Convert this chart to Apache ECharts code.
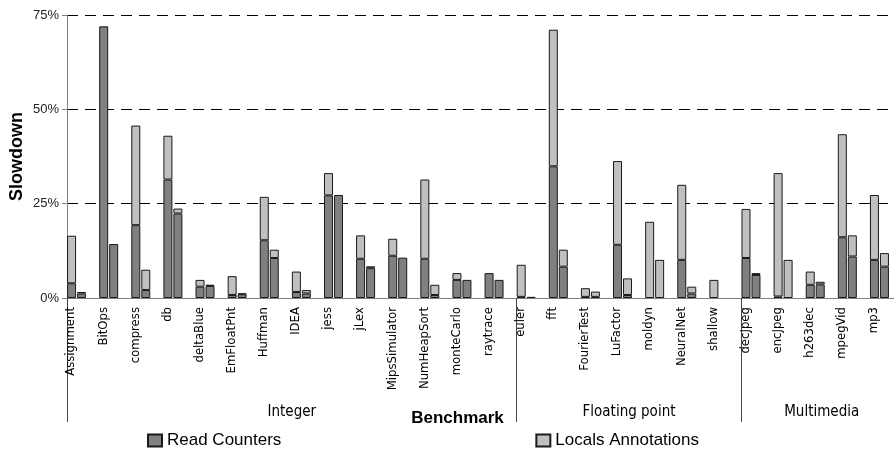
<!DOCTYPE html>
<html>
<head>
<meta charset="utf-8">
<script src="https://cdn.jsdelivr.net/npm/echarts@6/dist/echarts.min.js"></script>
<style>
html,body{margin:0;padding:0;background:#fff;}
#c{width:894px;height:451px;}
</style>
</head>
<body>
<div id="c"></div>
<script>
const benchmarks = ['Assignment','BitOps','compress','db','deltaBlue','EmFloatPnt','Huffman','IDEA','jess','jLex','MipsSimulator','NumHeapSort','monteCarlo','raytrace','euler','fft','FourierTest','LuFactor','moldyn','NeuralNet','shallow','decJpeg','encJpeg','h263dec','mpegVid','mp3'];
const groups = ['Integer','Floating point','Multimedia'];
const groupSizes = [14, 7, 5];
const seriesNames = ['Read Counters','Locals Annotations'];
const yTicks = [0, 25, 50, 75];

// left bar of each pair
const readLeft   = [3.9,72,19.3,31.4,3.0,0.8,15.3,1.6,27.2,10.4,11.2,10.4,4.8,6.6,0.3,34.9,0.3,14.1,0,10.1,0,10.6,0.4,3.5,16.1,10.1];
const localsLeft = [12.6,0,26.4,11.6,1.8,5.0,11.5,5.4,5.9,6.2,4.5,21.0,1.8,0,8.5,36.2,2.3,22.2,20.2,19.9,4.8,13.0,32.7,3.5,27.3,17.2];
// right bar of each pair
const readRight   = [1.2,14.3,2.1,22.4,3.2,1.0,10.6,1.2,27.3,7.9,10.7,0.8,4.8,4.8,0.3,8.3,0.3,0.8,0,1.2,0,6.1,0,3.6,11.0,8.3];
const localsRight = [0.4,0,5.4,1.3,0.3,0.2,2.2,0.9,0,0.5,0,2.7,0,0,0,4.5,1.4,4.4,10.1,1.8,0,0.5,10.1,0.7,5.6,3.6];

const N = benchmarks.length;
const DARK = '#808080', LIGHT = '#c0c0c0', EDGE = '#1a1a1a';
const labelPos = benchmarks.map((_, i) => i + 0.125);
const groupBounds = [0];
groupSizes.forEach(s => groupBounds.push(groupBounds[groupBounds.length - 1] + s));
const groupCenters = groups.map((_, i) => (groupBounds[i] + groupBounds[i + 1]) / 2);
const sepTicks = groupBounds.slice(0, groups.length);

function barSeries(name, data, stack, color) {
  return {
    type: 'bar', name: name, data: data.map(v => v === 0 ? null : v), stack: stack,
    xAxisIndex: 0, barWidth: 9, barGap: '11%',
    itemStyle: { color: color, borderColor: EDGE, borderWidth: 1 },
    emphasis: { disabled: true }, animation: false
  };
}

const chart = echarts.init(document.getElementById('c'), null, { renderer: 'canvas' });
chart.setOption({
  animation: false,
  backgroundColor: '#fff',
  grid: { left: 67, right: -8, top: 15, bottom: 153, containLabel: false, outerBoundsMode: 'none' },
  legend: {
    data: seriesNames, left: 147, top: 432, padding: 0, itemWidth: 14, itemHeight: 12, itemGap: 254,
    textStyle: { fontFamily: 'Liberation Sans, Arial', fontSize: 17, color: '#000' },
    selectedMode: false, icon: 'rect'
  },
  xAxis: [
    {
      type: 'category', data: benchmarks, position: 'bottom',
      axisLine: { show: true, lineStyle: { color: '#808080', width: 1 } },
      axisTick: { show: false }, axisLabel: { show: false }, splitLine: { show: false }
    },
    {
      type: 'value', min: 0, max: N, position: 'bottom',
      axisLine: { show: false }, splitLine: { show: false }, axisTick: { show: false },
      axisLabel: {
        customValues: labelPos, rotate: 90, margin: 9,
        formatter: v => benchmarks[Math.round(v - 0.125)],
        fontFamily: 'Liberation Sans Narrow, DejaVu Sans Condensed', fontSize: 13, color: '#000'
      }
    },
    {
      type: 'value', min: 0, max: N, position: 'bottom',
      axisLine: { show: false }, splitLine: { show: false },
      axisTick: { show: true, customValues: sepTicks, length: 124, lineStyle: { color: '#444', width: 1 } },
      axisLabel: {
        customValues: groupCenters, margin: 107,
        formatter: v => groups[groupCenters.indexOf(v)],
        fontFamily: 'Liberation Sans Narrow, DejaVu Sans Condensed', fontSize: 15, color: '#000'
      },
      name: 'Benchmark', nameLocation: 'middle', nameGap: 120, nameMoveOverlap: false,
      nameTextStyle: { fontFamily: 'Liberation Sans, Arial', fontWeight: 'bold', fontSize: 17, color: '#000', padding: [0, 54, 0, 0], verticalAlign: 'middle' }
    }
  ],
  yAxis: {
    type: 'value', min: yTicks[0], max: yTicks[yTicks.length - 1], interval: 25,
    axisLine: { show: true, lineStyle: { color: '#808080', width: 1 } },
    axisTick: { show: true, inside: false, length: 5, lineStyle: { color: '#808080' } },
    axisLabel: { formatter: '{value}%', margin: 8, fontFamily: 'Liberation Sans, Arial', fontSize: 13, color: '#222' },
    splitLine: { show: true, showMinLine: false, lineStyle: { color: '#000', type: [11, 7], width: 1 } },
    name: 'Slowdown', nameLocation: 'middle', nameGap: 41, nameMoveOverlap: false,
    nameTextStyle: { fontFamily: 'Liberation Sans, Arial', fontWeight: 'bold', fontSize: 18, color: '#000' }
  },
  series: [
    barSeries(seriesNames[0], readLeft, 'a', DARK),
    barSeries(seriesNames[1], localsLeft, 'a', LIGHT),
    barSeries(seriesNames[0], readRight, 'b', DARK),
    barSeries(seriesNames[1], localsRight, 'b', LIGHT),
    { type: 'bar', name: 'spacer', data: benchmarks.map(() => null), stack: 'c', barWidth: 12, barGap: '11%', silent: true, itemStyle: { color: 'transparent' } }
  ]
});
</script>
</body>
</html>
